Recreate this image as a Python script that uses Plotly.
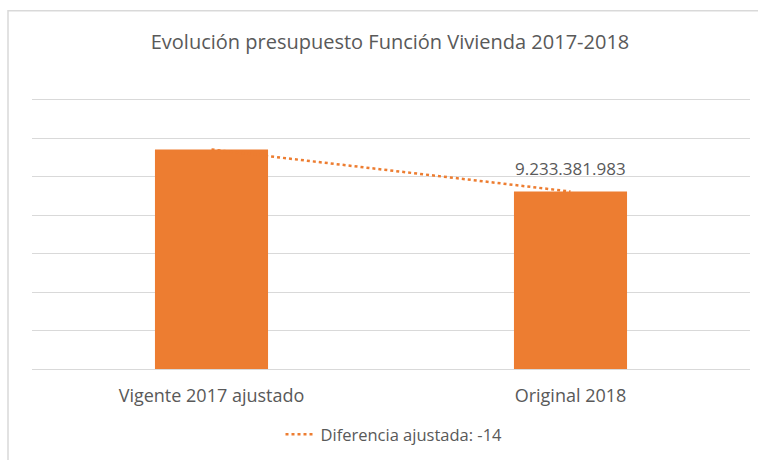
import plotly.graph_objects as go

categories = ["Vigente 2017 ajustado", "Original 2018"]
values = [11420000000, 9233381983]
trend_name = "Diferencia ajustada: -14"
title_text = "Evolución presupuesto Función Vivienda 2017-2018"
labels = ["", "9.233.381.983"]

ORANGE = "#ED7D31"
GREY_TEXT = "#595959"
GRID = "#D9D9D9"
FONT = "Open Sans"

fig = go.Figure()
fig.add_trace(go.Bar(x=categories, y=values, marker=dict(color=ORANGE, line=dict(width=0)),
                     showlegend=False, hoverinfo="skip"))
fig.add_trace(go.Scatter(x=categories, y=values, mode="lines", name=trend_name,
                         line=dict(color=ORANGE, width=2.5, dash="dot"), hoverinfo="skip"))

for c, v, t in zip(categories, values, labels):
    if t:
        fig.add_annotation(x=c, y=v, text=t, showarrow=False, yanchor="bottom", yshift=10,
                           font=dict(family=FONT, size=17, color=GREY_TEXT))

# layout geometry (pixels)
L, R, T, B = 32, 8, 98, 89
W, H = 758, 460
pw, ph = W - L - R, H - T - B
def px(xp): return (xp - L) / pw
def py(yp): return (H - B - yp) / ph

# outer frame
fig.add_shape(type="rect", xref="paper", yref="paper",
              x0=px(8), x1=px(770), y0=py(470), y1=py(10),
              line=dict(color=GRID, width=1.5), fillcolor="rgba(0,0,0,0)", layer="below")

fig.update_layout(
    width=W, height=H,
    margin=dict(l=L, r=R, t=T, b=B),
    paper_bgcolor="white", plot_bgcolor="white",
    bargap=0.685,
    title=dict(text=title_text, x=(390 / W), xanchor="center", y=1 - 42 / H, yanchor="middle",
               font=dict(family=FONT, size=20, color=GREY_TEXT)),
    showlegend=True,
    legend=dict(orientation="h", x=px(394), xanchor="center", y=py(437), yanchor="middle",
                font=dict(family=FONT, size=16.5, color=GREY_TEXT), bgcolor="rgba(0,0,0,0)"),
    xaxis=dict(showgrid=False, showline=False, ticks="", zeroline=False, ticklabelstandoff=14,
               tickfont=dict(family=FONT, size=18, color=GREY_TEXT)),
    yaxis=dict(range=[0, 14.1e9], tick0=0, dtick=2e9, showticklabels=False, showgrid=True,
               gridcolor=GRID, gridwidth=1, zeroline=True, zerolinecolor=GRID, zerolinewidth=1,
               showline=False),
)

fig.write_html("out.html", config={"displayModeBar": False},
               post_script="document.body.style.margin='0';")
